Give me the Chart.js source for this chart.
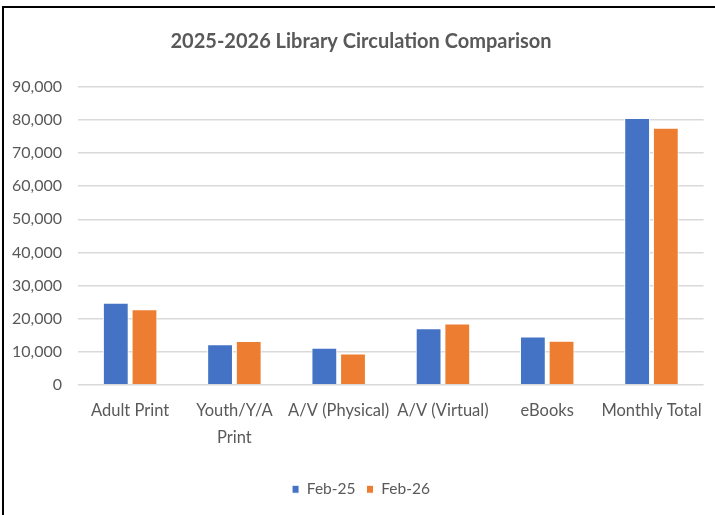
<!DOCTYPE html>
<html>
<head>
<meta charset="utf-8">
<script src="https://cdn.jsdelivr.net/npm/chart.js@4.4.1/dist/chart.umd.min.js"></script>
<style>
  html, body { margin: 0; padding: 0; background: #fff; }
  #frame {
    position: absolute; left: 2px; top: 6px;
    width: 713px; height: 509px;
    border-left: 2px solid #000; border-top: 2px solid #000;
    box-sizing: border-box;
  }
  #chart { display: block; }
</style>
</head>
<body>
<div id="frame"><canvas id="chart" width="711" height="507"></canvas></div>
<script>
// dane
const categories = ['Adult Print', ['Youth/Y/A', 'Print'], 'A/V (Physical)', 'A/V (Virtual)', 'eBooks', 'Monthly Total'];
const feb25 = [24800, 12200, 11200, 17100, 14600, 80600];
const feb26 = [22800, 13200, 9400, 18500, 13300, 77700];
const seriesNames = ['Feb-25', 'Feb-26'];
const yTicks = { min: 0, max: 90000, step: 10000 };

const textColor = '#595959';
const fontFamily = 'Lato, "Open Sans", sans-serif';

new Chart(document.getElementById('chart').getContext('2d'), {
  type: 'bar',
  data: {
    labels: categories,
    datasets: [
      { label: seriesNames[0], data: feb25, backgroundColor: '#4472C4', borderColor: '#ffffff', borderWidth: 1 },
      { label: seriesNames[1], data: feb26, backgroundColor: '#ED7D31', borderColor: '#ffffff', borderWidth: 1 }
    ]
  },
  options: {
    responsive: false,
    animation: false,
    layout: { padding: { left: 8, right: 5, top: 12, bottom: 8 } },
    datasets: { bar: { categoryPercentage: 0.55, barPercentage: 0.9 } },
    plugins: {
      title: {
        display: true,
        text: '2025-2026 Library Circulation Comparison',
        color: textColor,
        font: { family: fontFamily, size: 20, weight: 'bold' },
        padding: { top: 10, bottom: 33 }
      },
      legend: {
        position: 'bottom',
        labels: {
          color: textColor,
          boxWidth: 7, boxHeight: 8,
          font: { family: fontFamily, size: 15.5 },
          padding: 11
        }
      },
      tooltip: { enabled: false }
    },
    scales: {
      x: {
        grid: { display: false, drawTicks: false },
        border: { display: false },
        ticks: {
          color: textColor,
          font: { family: fontFamily, size: 16.5, lineHeight: 1.6 },
          maxRotation: 0, autoSkip: false, padding: 13
        },
        // odstęp między etykietami a legendą
        afterFit: scale => { scale.height += 7; }
      },
      y: {
        min: yTicks.min, max: yTicks.max,
        grid: { color: '#d9d9d9', drawTicks: false, lineWidth: 1.5 },
        border: { display: false },
        ticks: {
          stepSize: yTicks.step,
          color: textColor,
          font: { family: fontFamily, size: 16 },
          padding: 16,
          callback: v => v.toLocaleString('en-US')
        },
        afterFit: scale => { scale.width = 66; }
      }
    }
  }
});
</script>
</body>
</html>
